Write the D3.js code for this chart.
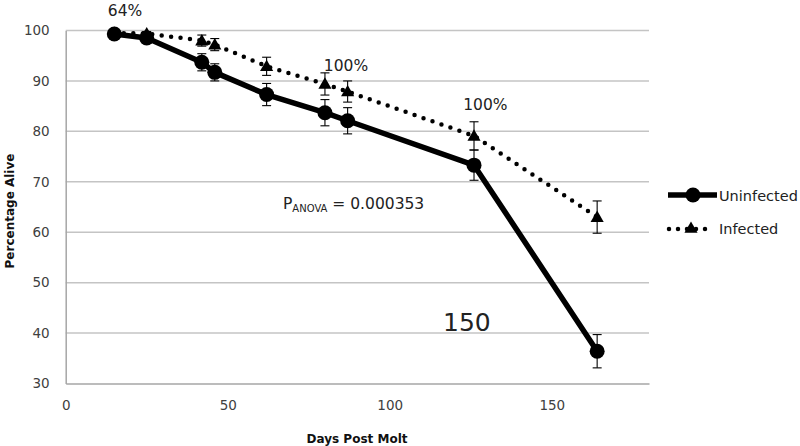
<!DOCTYPE html>
<html>
<head>
<meta charset="utf-8">
<script src="https://cdn.jsdelivr.net/npm/d3@7/dist/d3.min.js"></script>
<style>
  html, body { margin: 0; padding: 0; background: #fff; }
  svg { display: block; }
  text { font-family: "DejaVu Sans", sans-serif; }
</style>
</head>
<body>
<svg id="chart" width="800" height="446"></svg>
<script>
// ---- data ----
const days = [15, 25, 42, 46, 62, 80, 87, 126, 164];
const uninfected = [99.3, 98.5, 93.7, 91.7, 87.3, 83.7, 82.1, 73.3, 36.4];
const uninfectedErr = [0.4, 0.5, 1.7, 1.7, 2.2, 2.6, 2.6, 3.0, 3.3];
const infected = [99.5, 99.4, 98.0, 97.2, 92.9, 89.4, 87.9, 79.1, 63.0];
const infectedErr = [0.3, 0.4, 1.1, 1.2, 1.8, 2.2, 2.1, 2.8, 3.2];
const xTicks = [0, 50, 100, 150];
const yTicks = [30, 40, 50, 60, 70, 80, 90, 100];
const seriesNames = ["Uninfected", "Infected"];
// annotation texts with data-space anchor (day, percent)
const annotations = [
  { text: "64%", day: 18.3, val: 102.9, size: 15.5 },
  { text: "100%", day: 86.5, val: 91.9, size: 15.5 },
  { text: "100%", day: 129.5, val: 84.2, size: 15.5 },
  { text: "150", day: 123.8, val: 40.4, size: 25 }
];

// ---- layout ----
const svg = d3.select("#chart");
const mLeft = 65.7, mRight = 649, mTop = 30.5, mBottom = 383.5;
const x = d3.scaleLinear().domain([0, 180]).range([mLeft, mRight]);
const y = d3.scaleLinear().domain([30, 100]).range([mBottom, mTop]);

// gridlines
svg.append("g").selectAll("line").data(yTicks.filter(d => d > 30)).join("line")
  .attr("x1", mLeft).attr("x2", mRight)
  .attr("y1", d => y(d)).attr("y2", d => y(d))
  .attr("stroke", "#c4c4c4").attr("stroke-width", 1.5);

// axes
const yAxis = svg.append("g").attr("transform", `translate(${mLeft},0)`)
  .call(d3.axisLeft(y).tickValues(yTicks).tickSize(0).tickPadding(16));
const xAxis = svg.append("g").attr("transform", `translate(0,${mBottom})`)
  .call(d3.axisBottom(x).tickValues(xTicks).tickSize(0).tickPadding(20));
[yAxis, xAxis].forEach(g => {
  g.select(".domain").attr("stroke", "#a6a6a6").attr("stroke-width", 1.5);
  g.selectAll("text").attr("font-size", 13.5).attr("fill", "#404040")
    .attr("font-family", "DejaVu Sans, sans-serif");
});
xAxis.selectAll("text").attr("dy", "0.45em");

// axis titles
svg.append("text").attr("transform", `translate(14,211) rotate(-90)`)
  .attr("text-anchor", "middle").attr("font-size", 12).attr("font-weight", "bold")
  .attr("fill", "#111").text("Percentage Alive");
svg.append("text").attr("x", 357).attr("y", 443)
  .attr("text-anchor", "middle").attr("font-size", 12).attr("font-weight", "bold")
  .attr("fill", "#111").text("Days Post Molt");

// series
const uPts = days.map((d, i) => ({ d, v: uninfected[i], e: uninfectedErr[i] }));
const iPts = days.map((d, i) => ({ d, v: infected[i], e: infectedErr[i] }));
const line = d3.line().x(p => x(p.d)).y(p => y(p.v));

function errorBars(pts) {
  const g = svg.append("g").attr("stroke", "#000").attr("stroke-width", 1.1);
  pts.forEach(p => {
    const cx = x(p.d), y1 = y(p.v + p.e), y2 = y(p.v - p.e);
    g.append("line").attr("x1", cx).attr("x2", cx).attr("y1", y1).attr("y2", y2);
    g.append("line").attr("x1", cx - 4.5).attr("x2", cx + 4.5).attr("y1", y1).attr("y2", y1);
    g.append("line").attr("x1", cx - 4.5).attr("x2", cx + 4.5).attr("y1", y2).attr("y2", y2);
  });
}

const tri = d3.symbol().type(d3.symbolTriangle).size(75);

// uninfected
svg.append("path").datum(uPts).attr("d", line)
  .attr("fill", "none").attr("stroke", "#000").attr("stroke-width", 5.5)
  .attr("stroke-linejoin", "round");
errorBars(uPts);
svg.append("g").selectAll("circle").data(uPts).join("circle")
  .attr("cx", p => x(p.d)).attr("cy", p => y(p.v)).attr("r", 7.5).attr("fill", "#000");

// infected
svg.append("path").datum(iPts).attr("d", line)
  .attr("fill", "none").attr("stroke", "#000").attr("stroke-width", 4.5)
  .attr("stroke-linecap", "round").attr("stroke-dasharray", "0 9.5");
errorBars(iPts);
svg.append("g").selectAll("path").data(iPts).join("path")
  .attr("d", tri).attr("transform", p => `translate(${x(p.d)},${y(p.v) + 1})`)
  .attr("fill", "#000");

// legend
const lg = svg.append("g");
lg.append("line").attr("x1", 668).attr("x2", 717).attr("y1", 195).attr("y2", 195)
  .attr("stroke", "#000").attr("stroke-width", 5.5);
lg.append("circle").attr("cx", 693).attr("cy", 195).attr("r", 7.5).attr("fill", "#000");
lg.append("line").attr("x1", 669).attr("x2", 714).attr("y1", 229).attr("y2", 229)
  .attr("stroke", "#000").attr("stroke-width", 4.5).attr("stroke-linecap", "round")
  .attr("stroke-dasharray", "0 9");
lg.append("path").attr("d", tri).attr("transform", "translate(691,229)").attr("fill", "#000");
lg.selectAll("text.lab").data(seriesNames).join("text").attr("class", "lab")
  .attr("x", 719).attr("y", (d, i) => i === 0 ? 201 : 234)
  .attr("font-size", 14.5).attr("fill", "#222").text(d => d);

// annotations
svg.append("g").selectAll("text").data(annotations).join("text")
  .attr("x", a => x(a.day)).attr("y", a => y(a.val))
  .attr("text-anchor", "middle").attr("font-size", a => a.size).attr("fill", "#222")
  .text(a => a.text);

// P_ANOVA
const pt = svg.append("text").attr("x", 283).attr("y", 209).attr("font-size", 15.5).attr("fill", "#222");
pt.append("tspan").text("P");
pt.append("tspan").attr("font-size", 10).attr("dy", 3).text("ANOVA");
pt.append("tspan").attr("dy", -3).text(" = 0.000353");
</script>
</body>
</html>
